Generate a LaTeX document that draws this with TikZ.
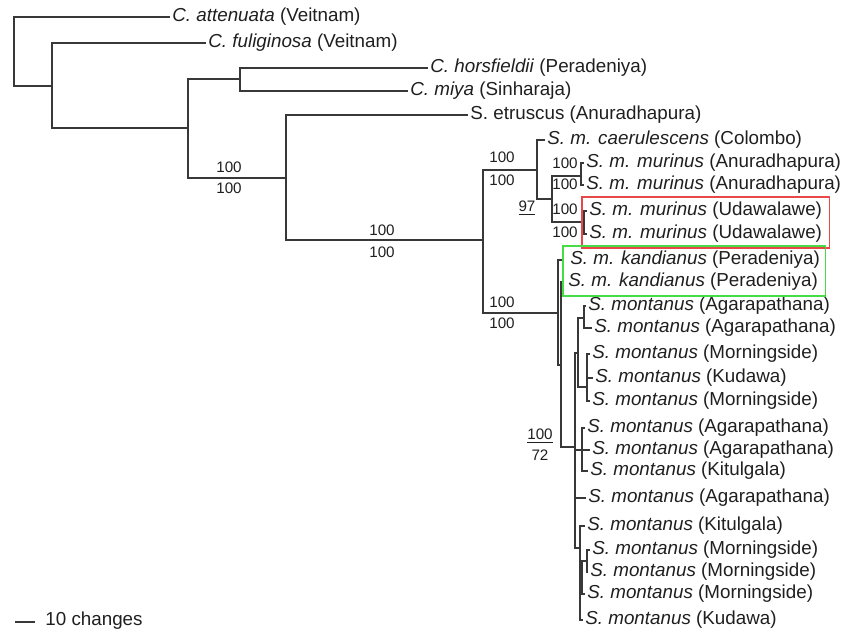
\documentclass[tikz,border=0pt]{standalone}
\usepackage{fontspec}
\setmainfont{Liberation Sans}
\usetikzlibrary{fit}
\definecolor{boxred}{RGB}{232,72,72}
\definecolor{boxgreen}{RGB}{70,220,70}
\newcommand{\smont}[1]{\textit{S. montanus} (#1)}
\tikzset{
  tip/.style={anchor=west,inner sep=1pt,text=black!88,font=\fontsize{9.4}{11}\selectfont},
  supp/.style={inner sep=0pt,text=black!88,font=\fontsize{7.6}{9}\selectfont},
  branch/.style={draw=black!78,line width=0.7pt},
  hbox/.style={draw,line width=0.7pt,inner xsep=2.5pt,inner ysep=1.5pt}
}
\begin{document}
\begin{tikzpicture}[x=0.5pt,y=-0.5pt]
\useasboundingbox (0,0) rectangle (843,633);
\coordinate (r) at (14,52); \coordinate (n1) at (52,86); \coordinate (n2) at (188,128);
\coordinate (n3) at (240,79); \coordinate (n4) at (286,178); \coordinate (n5) at (483,240);
\coordinate (n6) at (537,170); \coordinate (n7) at (558,313); \coordinate (n8) at (552,199);
\coordinate (n9) at (581,176); \coordinate (n10) at (584,222); \coordinate (k2) at (561,365);
\coordinate (m) at (575,447); \coordinate (ma) at (578,353); \coordinate (ma1) at (584,318);
\coordinate (ma2) at (587,387); \coordinate (mb) at (582,450); \coordinate (mc) at (580,548);
\coordinate (md) at (582,575); \coordinate (me) at (587,561);
\node[tip] (attenuata) at (170,17) {\textit{C. attenuata} (Veitnam)};
\node[tip] (fuliginosa) at (206,43) {\textit{C. fuliginosa} (Veitnam)};
\node[tip] (horsfieldii) at (428,68) {\textit{C. horsfieldii} (Peradeniya)};
\node[tip] (miya) at (408,91) {\textit{C. miya} (Sinharaja)};
\node[tip] (etruscus) at (468,115) {S. etruscus (Anuradhapura)};
\node[tip] (caeru) at (545,140) {\textit{S. m. caerulescens} (Colombo)};
\node[tip] (mur1) at (584,163) {\textit{S. m. murinus} (Anuradhapura)};
\node[tip] (mur2) at (584,185) {\textit{S. m. murinus} (Anuradhapura)};
\node[tip] (uda1) at (587,211) {\textit{S. m. murinus} (Udawalawe)};
\node[tip] (uda2) at (587,234) {\textit{S. m. murinus} (Udawalawe)};
\node[tip,inner xsep=4pt] (kand1) at (562,260) {\textit{S. m. kandianus} (Peradeniya)};
\node[tip,inner xsep=4pt] (kand2) at (560,282) {\textit{S. m. kandianus} (Peradeniya)};
\node[tip] (mont1) at (586,306) {\smont{Agarapathana}};
\node[tip] (mont2) at (592,328) {\smont{Agarapathana}};
\node[tip] (mont3) at (590,354) {\smont{Morningside}};
\node[tip] (mont4) at (593,378) {\smont{Kudawa}};
\node[tip] (mont5) at (590,401) {\smont{Morningside}};
\node[tip] (mont6) at (585,428) {\smont{Agarapathana}};
\node[tip] (mont7) at (590,450) {\smont{Agarapathana}};
\node[tip] (mont8) at (588,471) {\smont{Kitulgala}};
\node[tip] (mont9) at (586,498) {\smont{Agarapathana}};
\node[tip] (mont10) at (585,526) {\smont{Kitulgala}};
\node[tip] (mont11) at (590,550) {\smont{Morningside}};
\node[tip] (mont12) at (588,572) {\smont{Morningside}};
\node[tip] (mont13) at (585,594) {\smont{Morningside}};
\node[tip] (mont14) at (583,620) {\smont{Kudawa}};
\draw[branch] (r) |- (attenuata.west) (r) |- (n1) (n1) |- (fuliginosa.west) (n1) |- (n2)
  (n2) |- (n3) (n2) |- (n4) (n3) |- (horsfieldii.west) (n3) |- (miya.west)
  (n4) |- (etruscus.west) (n4) |- (n5) (n5) |- (n6) (n5) |- (n7)
  (n6) |- (caeru.west) (n6) |- (n8) (n8) |- (n9) (n8) |- (n10)
  (n9) |- (mur1.west) (n9) |- (mur2.west) (n10) |- (uda1.west) (n10) |- (uda2.west);
\draw[branch] (n7) |- (kand1.west) (n7) |- (k2) (k2) |- (kand2.west) (k2) |- (m)
  (m) |- (ma) (m) |- (mb) (m) |- (mont9.west) (m) |- (mc)
  (ma) |- (ma1) (ma) |- (ma2) (ma1) |- (mont1.west) (ma1) |- (mont2.west)
  (ma2) |- (mont3.west) (ma2) |- (mont4.west) (ma2) |- (mont5.west)
  (mb) |- (mont6.west) (mb) |- (mont7.west) (mb) |- (mont8.west)
  (mc) |- (mont10.west) (mc) |- (md) (mc) |- (mont14.west)
  (md) |- (me) (md) |- (mont13.west) (me) |- (mont11.west) (me) |- (mont12.west);
\node[hbox,draw=boxred,fit=(uda1)(uda2)] (redbox) {};
\node[hbox,draw=boxgreen,inner xsep=-1.5pt,fit=(kand1)(kand2)] (greenbox) {};
\node[supp] (s4a) at (229,167) {100}; \node[supp] (s4b) at (229,188) {100};
\node[supp] (s5a) at (382,230) {100}; \node[supp] (s5b) at (382,252) {100};
\node[supp] (s6a) at (502,157) {100}; \node[supp] (s6b) at (502,180) {100};
\node[supp] (s8) at (527,208) {\underline{97}};
\node[supp] (s9a) at (565,163) {100}; \node[supp] (s9b) at (565,184) {100};
\node[supp] (s10a) at (565,209) {100}; \node[supp] (s10b) at (565,232) {100};
\node[supp] (s7a) at (502,302) {100}; \node[supp] (s7b) at (502,323) {100};
\node[supp] (sma) at (540,436) {\underline{100}}; \node[supp] (smb) at (540,455) {72};
\coordinate (bar) at (15,622); \draw[branch] (bar) -- ++(20,0);
\node[tip] (scale) at (43,621) {10 changes};
\end{tikzpicture}
\end{document}
